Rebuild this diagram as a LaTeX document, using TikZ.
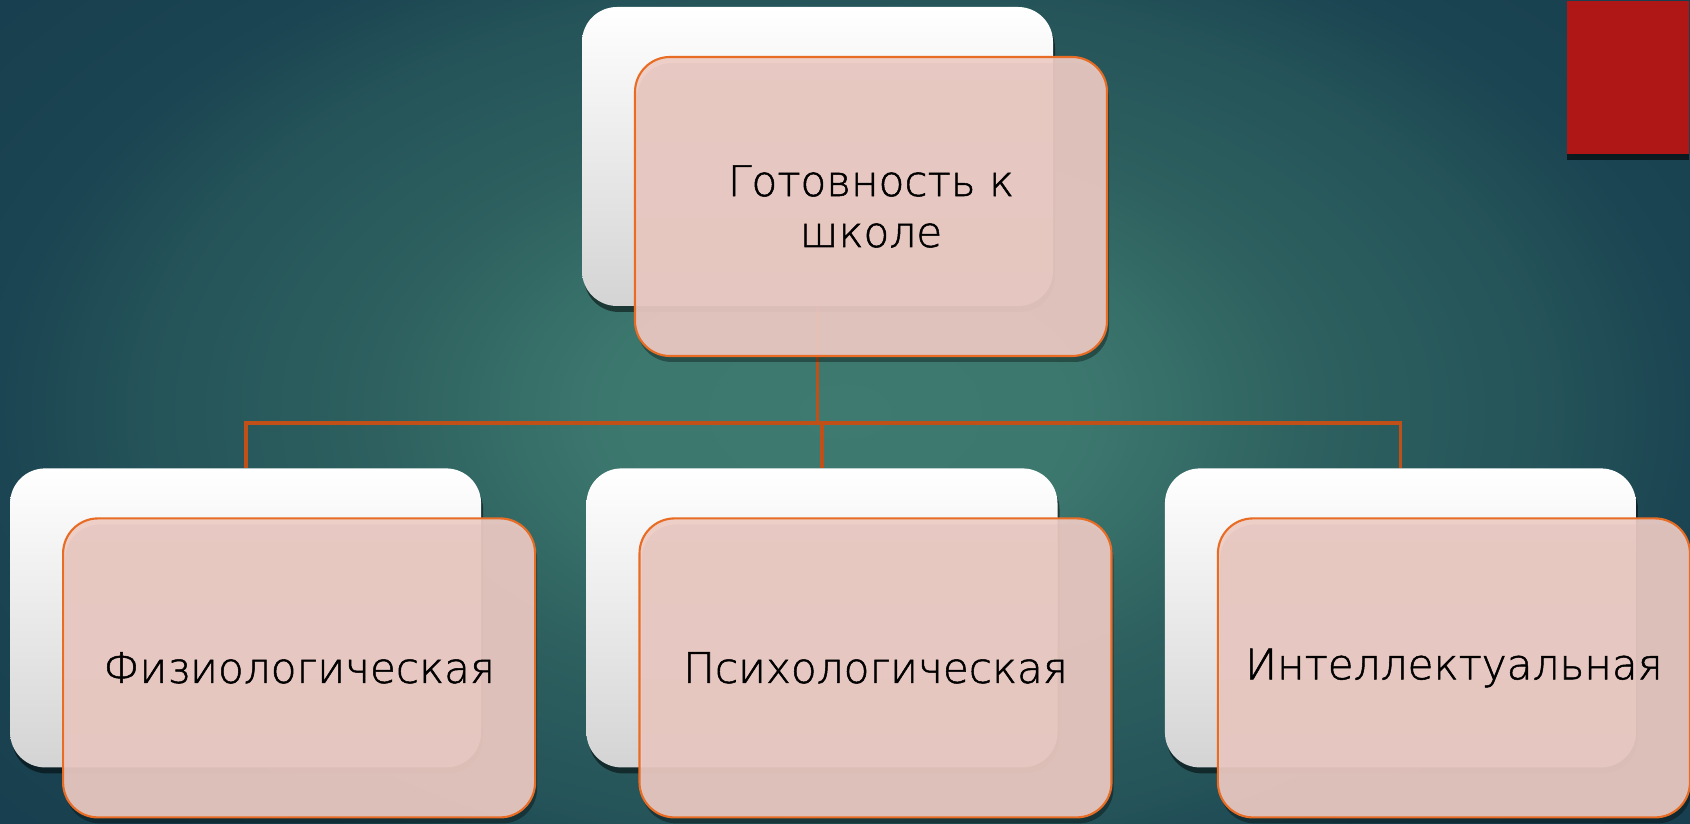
\documentclass[tikz,border=0pt]{standalone}
\usepackage{fontspec}
\setmainfont{DejaVu Sans ExtraLight}[FakeBold=1.2]
\usetikzlibrary{positioning,shadows}
\pgfdeclarelayer{bglayer}
\pgfdeclarelayer{edgelayer}
\pgfsetlayers{bglayer,edgelayer,main}
\definecolor{slidedark}{RGB}{22,60,77}
\definecolor{slideedge}{RGB}{27,69,82}
\definecolor{slidemid}{RGB}{45,96,95}
\definecolor{slidelight}{RGB}{62,122,112}
\definecolor{cardpink}{RGB}{238,204,197}
\definecolor{cardline}{RGB}{232,108,36}
\definecolor{linkline}{RGB}{192,80,24}
\definecolor{tabred}{RGB}{174,23,22}
\pgfdeclareradialshading{slideglow}{\pgfpoint{0bp}{0bp}}{color(0bp)=(slidelight); color(7bp)=(slidelight!90!slidemid); color(14bp)=(slidemid); color(21bp)=(slidemid!50!slideedge); color(25bp)=(slideedge); color(35bp)=(slidedark); color(50bp)=(slidedark)}
\tikzset{
  backcard/.style={rectangle, rounded corners=0.35cm, minimum width=4.71cm, minimum height=2.99cm,
    top color=white, middle color=white, bottom color=black!17,
    drop shadow={shadow xshift=0.02cm, shadow yshift=-0.06cm, opacity=0.5, fill=black}},
  card/.style={rectangle, rounded corners=0.35cm, minimum width=4.72cm, minimum height=2.99cm,
    draw=cardline, line width=0.6pt, fill=cardpink, fill opacity=0.92, text opacity=1,
    align=center, font=\fontsize{12}{14.5}\selectfont,
    drop shadow={shadow xshift=0.02cm, shadow yshift=-0.06cm, opacity=0.35, fill=black}},
  link/.style={draw=linkline, line width=1.1pt},
  redtab/.style={rectangle, fill=tabred, minimum width=1.22cm, minimum height=1.53cm,
    drop shadow={shadow xshift=0cm, shadow yshift=-0.06cm, opacity=0.6, fill=black}}
}

\begin{document}
\begin{tikzpicture}
  \useasboundingbox (0,0) rectangle (16.9,8.23);

  % Background
  \begin{pgfonlayer}{bglayer}
    \clip (0,0) rectangle (16.9,8.23);
    \shade[shading=slideglow] (0,-1.03) rectangle (16.9,9.26);
  \end{pgfonlayer}

  % Nodes
  \node[redtab, anchor=north east] (tab) at (16.9,8.23) {};
  \node[backcard] (topback) at (8.175,6.665) {};
  \node[card] (top) at ([shift={(0.535,-0.5)}]topback.center) {Готовность к\\школе};
  \node[backcard, below=1.61cm of topback, xshift=0.045cm] (midback) {};
  \node[backcard, left=1.04cm of midback] (leftback) {};
  \node[backcard, right=1.06cm of midback] (rightback) {};
  \node[card] (left) at ([shift={(0.535,-0.5)}]leftback.center) {Физиологическая};
  \node[card] (mid) at ([shift={(0.535,-0.5)}]midback.center) {Психологическая};
  \node[card] (right) at ([shift={(0.535,-0.5)}]rightback.center) {Интеллектуальная};

  % Edges
  \begin{pgfonlayer}{edgelayer}
    \draw[link] (topback.center) -- ++(0,-2.665) coordinate (bus);
    \draw[link] (leftback.north) |- (bus) -| (rightback.north);
    \draw[link] (bus -| midback.north) -- (midback.north);
  \end{pgfonlayer}

\end{tikzpicture}
\end{document}
